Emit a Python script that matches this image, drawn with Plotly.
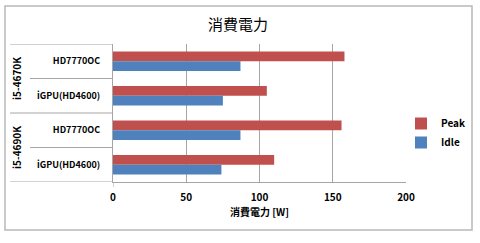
import plotly.graph_objects as go

groups = ["i5-4670K", "i5-4670K", "i5-4690K", "i5-4690K"]
items = ["HD7770OC", "iGPU(HD4600)", "HD7770OC", "iGPU(HD4600)"]
peak = [158, 105, 156, 110]
idle = [87, 75, 87, 74]
series_names = ["Peak", "Idle"]
x_ticks = [0, 50, 100, 150, 200]
title_text = "消費電力"
x_title = "消費電力 [W]"

FONT = "Noto Sans CJK JP"
W, H = 480, 243
L, R, T, B = 113, 2, 44, 61
PLOT_RIGHT = 406
PW = W - L - R
PH = H - T - B

def px_x(p):
    return (p - L) / PW

def px_y(p):
    return (H - B - p) / PH

pos = list(range(len(items)))

fig = go.Figure()
fig.add_trace(go.Bar(name=series_names[0], y=pos, x=peak, orientation="h",
                     marker=dict(color="#C0504D", line=dict(width=0))))
fig.add_trace(go.Bar(name=series_names[1], y=pos, x=idle, orientation="h",
                     marker=dict(color="#4F81BD", line=dict(width=0))))

shapes = []
# outer border
shapes.append(dict(type="rect", xref="paper", yref="paper",
                   x0=px_x(5), x1=px_x(472), y0=px_y(230), y1=px_y(6),
                   line=dict(color="#B8B8B8", width=1.5), fillcolor="rgba(0,0,0,0)", layer="below"))
# category separators
n = len(items)
for i in range(n + 1):
    b = i - 0.5
    if i == 0 or i == n or groups[i - 1] != groups[i]:
        x0 = px_x(10)
    else:
        x0 = px_x(30)
    shapes.append(dict(type="line", xref="paper", yref="y", x0=x0, x1=0, y0=b, y1=b,
                       line=dict(color="#A6A6A6", width=1)))
# tick below zero
shapes.append(dict(type="line", xref="x", yref="paper", x0=0, x1=0, y0=0, y1=px_y(187),
                   line=dict(color="#A6A6A6", width=1)))

annotations = []
seen = []
for g in groups:
    if g in seen:
        continue
    seen.append(g)
    idxs = [i for i, gg in enumerate(groups) if gg == g]
    center = sum(idxs) / len(idxs)
    annotations.append(dict(text=g, xref="paper", yref="y", x=px_x(16.5), y=center,
                            textangle=-90, showarrow=False, xanchor="center", yanchor="middle",
                            font=dict(family=FONT, size=10, color="#000000", weight="bold")))
annotations.append(dict(text=x_title, xref="paper", yref="paper",
                        x=px_x((L + PLOT_RIGHT) / 2), y=px_y(211.5),
                        showarrow=False, xanchor="center", yanchor="middle",
                        font=dict(family=FONT, size=10, color="#000000", weight="bold")))

fig.update_layout(
    width=W, height=H,
    margin=dict(l=L, r=R, t=T, b=B, autoexpand=False),
    paper_bgcolor="white", plot_bgcolor="white",
    barmode="group", bargap=0.44, bargroupgap=0,
    title=dict(text=title_text, x=0.496, xanchor="center", y=1 - 25 / H, yanchor="middle",
               font=dict(family=FONT, size=15, color="#000000")),
    xaxis=dict(domain=[0, px_x(PLOT_RIGHT)], range=[0, 200], tickvals=x_ticks,
               ticktext=[str(v) for v in x_ticks],
               showgrid=True, gridcolor="#A6A6A6", gridwidth=1, zeroline=False,
               showline=True, linecolor="#A6A6A6", linewidth=1, ticks="",
               tickfont=dict(family=FONT, size=10, color="#000000", weight="bold"),
               ticklabelstandoff=6, fixedrange=True, automargin=False),
    yaxis=dict(range=[n - 0.5, -0.5], tickvals=pos, ticktext=items, showgrid=False,
               zeroline=False, showline=True, linecolor="#A6A6A6", linewidth=1, ticks="",
               tickfont=dict(family=FONT, size=9, color="#000000", weight="bold"),
               ticklabelstandoff=10, fixedrange=True, automargin=False),
    legend=dict(x=px_x(401), y=px_y(109), xanchor="left", yanchor="top",
                font=dict(family=FONT, size=10, color="#000000", weight="bold"),
                bgcolor="rgba(0,0,0,0)", itemwidth=30, tracegroupgap=0),
    shapes=shapes, annotations=annotations, showlegend=True,
)

fig.write_html("out.html")
